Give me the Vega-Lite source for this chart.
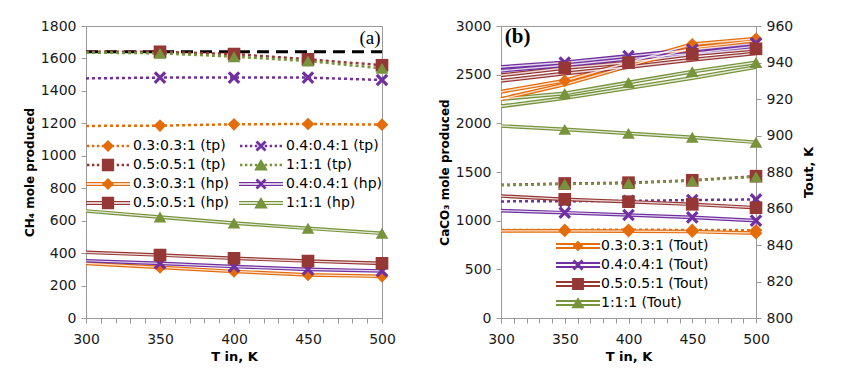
{
"$schema": "https://vega.github.io/schema/vega-lite/v6.json",
"padding": {"left": 22, "top": 18, "right": 2, "bottom": 2},
"spacing": 41,
"config": {
  "font": "DejaVu Sans",
  "view": {"stroke": "#9a9a9a"},
  "axis": {"domainColor": "#9a9a9a", "tickColor": "#9a9a9a", "grid": false, "labelFont": "DejaVu Sans", "labelFontSize": 14, "labelColor": "#1a1a1a", "titleFont": "DejaVu Sans", "titleFontSize": 13, "titleFontWeight": "bold", "titleColor": "#000000", "tickSize": 5, "labelFlush": false, "labelOverlap": false, "labelPadding": 5, "format": "d"},
  "axisX": {"labelPadding": 9}
},
"datasets": {
  "a": [
    {"ratio":"ref","type":"ref","T":300,"v":1641},{"ratio":"ref","type":"ref","T":500,"v":1641},
    {"ratio":"0.3:0.3:1","type":"tp","T":300,"v":1184},{"ratio":"0.3:0.3:1","type":"tp","T":350,"v":1186},{"ratio":"0.3:0.3:1","type":"tp","T":400,"v":1194},{"ratio":"0.3:0.3:1","type":"tp","T":450,"v":1196},{"ratio":"0.3:0.3:1","type":"tp","T":500,"v":1192},
    {"ratio":"0.4:0.4:1","type":"tp","T":300,"v":1477},{"ratio":"0.4:0.4:1","type":"tp","T":350,"v":1482},{"ratio":"0.4:0.4:1","type":"tp","T":400,"v":1482},{"ratio":"0.4:0.4:1","type":"tp","T":450,"v":1482},{"ratio":"0.4:0.4:1","type":"tp","T":500,"v":1467},
    {"ratio":"0.5:0.5:1","type":"tp","T":300,"v":1641},{"ratio":"0.5:0.5:1","type":"tp","T":350,"v":1641},{"ratio":"0.5:0.5:1","type":"tp","T":400,"v":1627},{"ratio":"0.5:0.5:1","type":"tp","T":450,"v":1595},{"ratio":"0.5:0.5:1","type":"tp","T":500,"v":1558},
    {"ratio":"1:1:1","type":"tp","T":300,"v":1636},{"ratio":"1:1:1","type":"tp","T":350,"v":1632},{"ratio":"1:1:1","type":"tp","T":400,"v":1611},{"ratio":"1:1:1","type":"tp","T":450,"v":1584},{"ratio":"1:1:1","type":"tp","T":500,"v":1539},
    {"ratio":"0.3:0.3:1","type":"hp","T":300,"v":337},{"ratio":"0.3:0.3:1","type":"hp","T":350,"v":312},{"ratio":"0.3:0.3:1","type":"hp","T":400,"v":287},{"ratio":"0.3:0.3:1","type":"hp","T":450,"v":266},{"ratio":"0.3:0.3:1","type":"hp","T":500,"v":257},
    {"ratio":"0.4:0.4:1","type":"hp","T":300,"v":353},{"ratio":"0.4:0.4:1","type":"hp","T":350,"v":337},{"ratio":"0.4:0.4:1","type":"hp","T":400,"v":317},{"ratio":"0.4:0.4:1","type":"hp","T":450,"v":300},{"ratio":"0.4:0.4:1","type":"hp","T":500,"v":290},
    {"ratio":"0.5:0.5:1","type":"hp","T":300,"v":405},{"ratio":"0.5:0.5:1","type":"hp","T":350,"v":388},{"ratio":"0.5:0.5:1","type":"hp","T":400,"v":368},{"ratio":"0.5:0.5:1","type":"hp","T":450,"v":351},{"ratio":"0.5:0.5:1","type":"hp","T":500,"v":337},
    {"ratio":"1:1:1","type":"hp","T":300,"v":660},{"ratio":"1:1:1","type":"hp","T":350,"v":622},{"ratio":"1:1:1","type":"hp","T":400,"v":585},{"ratio":"1:1:1","type":"hp","T":450,"v":553},{"ratio":"1:1:1","type":"hp","T":500,"v":522}
  ],
  "b": [
    {"ratio":"0.3:0.3:1","type":"tp","T":300,"v":905},{"ratio":"0.3:0.3:1","type":"tp","T":350,"v":905},{"ratio":"0.3:0.3:1","type":"tp","T":400,"v":906},{"ratio":"0.3:0.3:1","type":"tp","T":450,"v":905},{"ratio":"0.3:0.3:1","type":"tp","T":500,"v":902},
    {"ratio":"0.4:0.4:1","type":"tp","T":300,"v":1198},{"ratio":"0.4:0.4:1","type":"tp","T":350,"v":1200},{"ratio":"0.4:0.4:1","type":"tp","T":400,"v":1203},{"ratio":"0.4:0.4:1","type":"tp","T":450,"v":1212},{"ratio":"0.4:0.4:1","type":"tp","T":500,"v":1218},
    {"ratio":"0.5:0.5:1","type":"tp","T":300,"v":1368},{"ratio":"0.5:0.5:1","type":"tp","T":350,"v":1382},{"ratio":"0.5:0.5:1","type":"tp","T":400,"v":1390},{"ratio":"0.5:0.5:1","type":"tp","T":450,"v":1415},{"ratio":"0.5:0.5:1","type":"tp","T":500,"v":1457},
    {"ratio":"1:1:1","type":"tp","T":300,"v":1363},{"ratio":"1:1:1","type":"tp","T":350,"v":1377},{"ratio":"1:1:1","type":"tp","T":400,"v":1384},{"ratio":"1:1:1","type":"tp","T":450,"v":1411},{"ratio":"1:1:1","type":"tp","T":500,"v":1452},
    {"ratio":"0.3:0.3:1","type":"hp","T":300,"v":895},{"ratio":"0.3:0.3:1","type":"hp","T":350,"v":895},{"ratio":"0.3:0.3:1","type":"hp","T":400,"v":893},{"ratio":"0.3:0.3:1","type":"hp","T":450,"v":888},{"ratio":"0.3:0.3:1","type":"hp","T":500,"v":872},
    {"ratio":"0.4:0.4:1","type":"hp","T":300,"v":1103},{"ratio":"0.4:0.4:1","type":"hp","T":350,"v":1082},{"ratio":"0.4:0.4:1","type":"hp","T":400,"v":1058},{"ratio":"0.4:0.4:1","type":"hp","T":450,"v":1034},{"ratio":"0.4:0.4:1","type":"hp","T":500,"v":1000},
    {"ratio":"0.5:0.5:1","type":"hp","T":300,"v":1253},{"ratio":"0.5:0.5:1","type":"hp","T":350,"v":1219},{"ratio":"0.5:0.5:1","type":"hp","T":400,"v":1195},{"ratio":"0.5:0.5:1","type":"hp","T":450,"v":1168},{"ratio":"0.5:0.5:1","type":"hp","T":500,"v":1133},
    {"ratio":"1:1:1","type":"hp","T":300,"v":1973},{"ratio":"1:1:1","type":"hp","T":350,"v":1938},{"ratio":"1:1:1","type":"hp","T":400,"v":1897},{"ratio":"1:1:1","type":"hp","T":450,"v":1856},{"ratio":"1:1:1","type":"hp","T":500,"v":1805}
  ],
  "t": [
    {"ratio":"0.3:0.3:1","type":"tp","T":300,"v":924},{"ratio":"0.3:0.3:1","type":"tp","T":350,"v":930},{"ratio":"0.3:0.3:1","type":"tp","T":400,"v":940},{"ratio":"0.3:0.3:1","type":"tp","T":450,"v":950},{"ratio":"0.3:0.3:1","type":"tp","T":500,"v":953},
    {"ratio":"0.4:0.4:1","type":"tp","T":300,"v":937.5},{"ratio":"0.4:0.4:1","type":"tp","T":350,"v":940},{"ratio":"0.4:0.4:1","type":"tp","T":400,"v":943.5},{"ratio":"0.4:0.4:1","type":"tp","T":450,"v":947},{"ratio":"0.4:0.4:1","type":"tp","T":500,"v":950.5},
    {"ratio":"0.5:0.5:1","type":"tp","T":300,"v":933},{"ratio":"0.5:0.5:1","type":"tp","T":350,"v":937},{"ratio":"0.5:0.5:1","type":"tp","T":400,"v":940},{"ratio":"0.5:0.5:1","type":"tp","T":450,"v":944.5},{"ratio":"0.5:0.5:1","type":"tp","T":500,"v":947.5},
    {"ratio":"1:1:1","type":"tp","T":300,"v":920},{"ratio":"1:1:1","type":"tp","T":350,"v":923},{"ratio":"1:1:1","type":"tp","T":400,"v":929},{"ratio":"1:1:1","type":"tp","T":450,"v":935},{"ratio":"1:1:1","type":"tp","T":500,"v":940},
    {"ratio":"0.3:0.3:1","type":"hp","T":300,"v":920},{"ratio":"0.3:0.3:1","type":"hp","T":350,"v":928},{"ratio":"0.3:0.3:1","type":"hp","T":400,"v":938},{"ratio":"0.3:0.3:1","type":"hp","T":450,"v":948},{"ratio":"0.3:0.3:1","type":"hp","T":500,"v":952},
    {"ratio":"0.4:0.4:1","type":"hp","T":300,"v":935.5},{"ratio":"0.4:0.4:1","type":"hp","T":350,"v":938.5},{"ratio":"0.4:0.4:1","type":"hp","T":400,"v":942},{"ratio":"0.4:0.4:1","type":"hp","T":450,"v":945},{"ratio":"0.4:0.4:1","type":"hp","T":500,"v":949},
    {"ratio":"0.5:0.5:1","type":"hp","T":300,"v":930},{"ratio":"0.5:0.5:1","type":"hp","T":350,"v":934},{"ratio":"0.5:0.5:1","type":"hp","T":400,"v":937.5},{"ratio":"0.5:0.5:1","type":"hp","T":450,"v":941.5},{"ratio":"0.5:0.5:1","type":"hp","T":500,"v":945},
    {"ratio":"1:1:1","type":"hp","T":300,"v":916},{"ratio":"1:1:1","type":"hp","T":350,"v":920.5},{"ratio":"1:1:1","type":"hp","T":400,"v":926},{"ratio":"1:1:1","type":"hp","T":450,"v":931.5},{"ratio":"1:1:1","type":"hp","T":500,"v":937.5}
  ],
  "legA": [
    {"series":"0.3:0.3:1 (tp)"},{"series":"0.4:0.4:1 (tp)"},{"series":"0.5:0.5:1 (tp)"},{"series":"1:1:1 (tp)"},
    {"series":"0.3:0.3:1 (hp)"},{"series":"0.4:0.4:1 (hp)"},{"series":"0.5:0.5:1 (hp)"},{"series":"1:1:1 (hp)"}
  ],
  "legB": [
    {"series":"0.3:0.3:1 (Tout)"},{"series":"0.4:0.4:1 (Tout)"},{"series":"0.5:0.5:1 (Tout)"},{"series":"1:1:1 (Tout)"}
  ],
  "labA": [{"label": "(a)"}],
  "labB": [{"label": "(b)"}]
},
"hconcat": [
{
  "width": 296, "height": 292,
  "layer": [
    {
      "data": {"name": "a"},
      "encoding": {
        "x": {"field": "T", "type": "quantitative", "scale": {"domain": [300, 500], "nice": false, "zero": false}, "axis": {"title": "T in, K", "values": [300,310,320,330,340,350,360,370,380,390,400,410,420,430,440,450,460,470,480,490,500], "labelExpr": "datum.value % 50 === 0 ? datum.label : ''", "titlePadding": 4}},
        "y": {"field": "v", "type": "quantitative", "scale": {"domain": [0, 1800], "nice": false}, "axis": {"title": "CH₄ mole produced", "titleFontSize": 12, "values": [0,200,400,600,800,1000,1200,1400,1600,1800]}}
      },
      "layer": [
        {"transform": [{"filter": "datum.type === 'ref'"}], "mark": {"type": "line", "color": "#000000", "strokeDash": [12, 7], "strokeWidth": 3}},
        {"transform": [{"filter": "datum.type === 'tp'"}], "mark": {"type": "line", "strokeDash": [3, 3], "strokeWidth": 2.5},
         "encoding": {"color": {"field": "ratio", "type": "nominal", "scale": {"domain": ["0.3:0.3:1","0.4:0.4:1","0.5:0.5:1","1:1:1"], "range": ["#E46C0A","#7030A0","#953735","#77933C"]}, "legend": null}}},
        {"transform": [{"filter": "datum.type === 'hp'"}], "mark": {"type": "line", "strokeWidth": 3.6},
         "encoding": {"color": {"field": "ratio", "type": "nominal", "scale": {"domain": ["0.3:0.3:1","0.4:0.4:1","0.5:0.5:1","1:1:1"], "range": ["#E46C0A","#7030A0","#953735","#77933C"]}, "legend": null}}},
        {"transform": [{"filter": "datum.type === 'hp'"}], "mark": {"type": "line", "strokeWidth": 1.2, "color": "#ffffff", "opacity": 0.8},
         "encoding": {"detail": {"field": "ratio", "type": "nominal"}}},
        {"transform": [{"filter": "datum.type !== 'ref' && datum.T >= 350"}], "mark": {"type": "point", "filled": true, "opacity": 1, "size": 160, "strokeWidth": 0},
         "encoding": {
           "color": {"field": "ratio", "type": "nominal", "scale": {"domain": ["0.3:0.3:1","0.4:0.4:1","0.5:0.5:1","1:1:1"], "range": ["#E46C0A","#7030A0","#953735","#77933C"]}, "legend": null},
           "shape": {"field": "ratio", "type": "nominal", "scale": {"domain": ["0.3:0.3:1","0.4:0.4:1","0.5:0.5:1","1:1:1"], "range": ["diamond","M-1,-0.64L-0.64,-1L0,-0.36L0.64,-1L1,-0.64L0.36,0L1,0.64L0.64,1L0,0.36L-0.64,1L-1,0.64L-0.36,0Z","square","triangle-up"]}, "legend": null}}}
      ]
    },
    {
      "data": {"name": "labA"},
      "mark": {"type": "text", "font": "Liberation Serif", "fontSize": 19, "align": "right", "baseline": "middle", "color": "#000000", "opacity": 1},
      "encoding": {
        "x": {"datum": 499, "type": "quantitative", "scale": {"domain": [300, 500], "nice": false, "zero": false}, "axis": {"title": "T in, K", "values": [300,310,320,330,340,350,360,370,380,390,400,410,420,430,440,450,460,470,480,490,500], "labelExpr": "datum.value % 50 === 0 ? datum.label : ''", "titlePadding": 4}},
        "y": {"datum": 1726, "type": "quantitative", "scale": {"domain": [0, 1800], "nice": false}, "axis": {"title": "CH₄ mole produced", "titleFontSize": 12, "values": [0,200,400,600,800,1000,1200,1400,1600,1800]}},
        "text": {"field": "label", "type": "nominal"}}
    },
    {
      "data": {"name": "legA"},
      "mark": {"type": "point", "filled": true, "opacity": 0},
      "encoding": {
        "color": {"field": "series", "type": "nominal",
          "scale": {"domain": ["0.3:0.3:1 (tp)","0.5:0.5:1 (tp)","0.3:0.3:1 (hp)","0.5:0.5:1 (hp)","0.4:0.4:1 (tp)","1:1:1 (tp)","0.4:0.4:1 (hp)","1:1:1 (hp)"], "range": ["#E46C0A","#953735","#E46C0A","#953735","#7030A0","#77933C","#7030A0","#77933C"]},
          "legend": {"title": null, "orient": "none", "legendX": 0, "legendY": 112, "columns": 2, "symbolSize": 1936, "symbolStrokeWidth": 0, "symbolOpacity": 1, "labelFont": "DejaVu Sans", "labelFontSize": 14, "labelColor": "#000000", "labelOffset": 3, "columnPadding": 9, "rowPadding": 3, "clipHeight": 16, "padding": 0, "labelLimit": 300}},
        "shape": {"field": "series", "type": "nominal",
          "scale": {"domain": ["0.3:0.3:1 (tp)","0.5:0.5:1 (tp)","0.3:0.3:1 (hp)","0.5:0.5:1 (hp)","0.4:0.4:1 (tp)","1:1:1 (tp)","0.4:0.4:1 (hp)","1:1:1 (hp)"],
            "range": [
              "M-0.955,-0.055L-0.845,-0.055L-0.845,0.055L-0.955,0.055ZM-0.73,-0.055L-0.62,-0.055L-0.62,0.055L-0.73,0.055ZM-0.505,-0.055L-0.395,-0.055L-0.395,0.055L-0.505,0.055ZM-0.28,-0.055L-0.17,-0.055L-0.17,0.055L-0.28,0.055ZM-0.055,-0.055L0.055,-0.055L0.055,0.055L-0.055,0.055ZM0.17,-0.055L0.28,-0.055L0.28,0.055L0.17,0.055ZM0.395,-0.055L0.505,-0.055L0.505,0.055L0.395,0.055ZM0.62,-0.055L0.73,-0.055L0.73,0.055L0.62,0.055ZM0.845,-0.055L0.955,-0.055L0.955,0.055L0.845,0.055ZM0,-0.27L0.27,0L0,0.27L-0.27,0Z",
              "M-0.955,-0.055L-0.845,-0.055L-0.845,0.055L-0.955,0.055ZM-0.73,-0.055L-0.62,-0.055L-0.62,0.055L-0.73,0.055ZM-0.505,-0.055L-0.395,-0.055L-0.395,0.055L-0.505,0.055ZM-0.28,-0.055L-0.17,-0.055L-0.17,0.055L-0.28,0.055ZM-0.055,-0.055L0.055,-0.055L0.055,0.055L-0.055,0.055ZM0.17,-0.055L0.28,-0.055L0.28,0.055L0.17,0.055ZM0.395,-0.055L0.505,-0.055L0.505,0.055L0.395,0.055ZM0.62,-0.055L0.73,-0.055L0.73,0.055L0.62,0.055ZM0.845,-0.055L0.955,-0.055L0.955,0.055L0.845,0.055ZM-0.28,-0.28L0.28,-0.28L0.28,0.28L-0.28,0.28Z",
              "M-1,-0.09L1,-0.09L1,-0.035L-1,-0.035ZM-1,0.035L1,0.035L1,0.09L-1,0.09ZM0,-0.27L0.27,0L0,0.27L-0.27,0Z",
              "M-1,-0.09L1,-0.09L1,-0.035L-1,-0.035ZM-1,0.035L1,0.035L1,0.09L-1,0.09ZM-0.28,-0.28L0.28,-0.28L0.28,0.28L-0.28,0.28Z",
              "M-0.955,-0.055L-0.845,-0.055L-0.845,0.055L-0.955,0.055ZM-0.73,-0.055L-0.62,-0.055L-0.62,0.055L-0.73,0.055ZM-0.505,-0.055L-0.395,-0.055L-0.395,0.055L-0.505,0.055ZM-0.28,-0.055L-0.17,-0.055L-0.17,0.055L-0.28,0.055ZM-0.055,-0.055L0.055,-0.055L0.055,0.055L-0.055,0.055ZM0.17,-0.055L0.28,-0.055L0.28,0.055L0.17,0.055ZM0.395,-0.055L0.505,-0.055L0.505,0.055L0.395,0.055ZM0.62,-0.055L0.73,-0.055L0.73,0.055L0.62,0.055ZM0.845,-0.055L0.955,-0.055L0.955,0.055L0.845,0.055ZM-0.25,-0.16L-0.16,-0.25L0,-0.09L0.16,-0.25L0.25,-0.16L0.09,0L0.25,0.16L0.16,0.25L0,0.09L-0.16,0.25L-0.25,0.16L-0.09,0Z",
              "M-0.955,-0.055L-0.845,-0.055L-0.845,0.055L-0.955,0.055ZM-0.73,-0.055L-0.62,-0.055L-0.62,0.055L-0.73,0.055ZM-0.505,-0.055L-0.395,-0.055L-0.395,0.055L-0.505,0.055ZM-0.28,-0.055L-0.17,-0.055L-0.17,0.055L-0.28,0.055ZM-0.055,-0.055L0.055,-0.055L0.055,0.055L-0.055,0.055ZM0.17,-0.055L0.28,-0.055L0.28,0.055L0.17,0.055ZM0.395,-0.055L0.505,-0.055L0.505,0.055L0.395,0.055ZM0.62,-0.055L0.73,-0.055L0.73,0.055L0.62,0.055ZM0.845,-0.055L0.955,-0.055L0.955,0.055L0.845,0.055ZM0,-0.27L0.31,0.25L-0.31,0.25Z",
              "M-1,-0.09L1,-0.09L1,-0.035L-1,-0.035ZM-1,0.035L1,0.035L1,0.09L-1,0.09ZM-0.25,-0.16L-0.16,-0.25L0,-0.09L0.16,-0.25L0.25,-0.16L0.09,0L0.25,0.16L0.16,0.25L0,0.09L-0.16,0.25L-0.25,0.16L-0.09,0Z",
              "M-1,-0.09L1,-0.09L1,-0.035L-1,-0.035ZM-1,0.035L1,0.035L1,0.09L-1,0.09ZM0,-0.27L0.31,0.25L-0.31,0.25Z"
            ]},
          "legend": {"title": null, "orient": "none", "legendX": 0, "legendY": 112, "columns": 2, "symbolSize": 1936, "symbolStrokeWidth": 0, "symbolOpacity": 1, "labelFont": "DejaVu Sans", "labelFontSize": 14, "labelColor": "#000000", "labelOffset": 3, "columnPadding": 9, "rowPadding": 3, "clipHeight": 16, "padding": 0, "labelLimit": 300}}
      }
    }
  ],
  "resolve": {"scale": {"color": "independent", "shape": "independent"}}
},
{
  "width": 255, "height": 292,
  "layer": [
    {
      "layer": [
        {
          "data": {"name": "b"},
          "encoding": {
            "x": {"field": "T", "type": "quantitative", "scale": {"domain": [300, 500], "nice": false, "zero": false}, "axis": {"title": "T in, K", "values": [300,310,320,330,340,350,360,370,380,390,400,410,420,430,440,450,460,470,480,490,500], "labelExpr": "datum.value % 50 === 0 ? datum.label : ''", "titlePadding": 4}},
            "y": {"field": "v", "type": "quantitative", "scale": {"domain": [0, 3000], "nice": false}, "axis": {"title": "CaCO₃ mole produced", "titleFontSize": 12, "values": [0,500,1000,1500,2000,2500,3000]}}
          },
          "layer": [
            {"transform": [{"filter": "datum.type === 'tp'"}], "mark": {"type": "line", "strokeDash": [3, 3], "strokeWidth": 2.5},
             "encoding": {"color": {"field": "ratio", "type": "nominal", "scale": {"domain": ["0.3:0.3:1","0.4:0.4:1","0.5:0.5:1","1:1:1"], "range": ["#E46C0A","#7030A0","#953735","#77933C"]}, "legend": null}}},
            {"transform": [{"filter": "datum.type === 'hp'"}], "mark": {"type": "line", "strokeWidth": 3.6},
             "encoding": {"color": {"field": "ratio", "type": "nominal", "scale": {"domain": ["0.3:0.3:1","0.4:0.4:1","0.5:0.5:1","1:1:1"], "range": ["#E46C0A","#7030A0","#953735","#77933C"]}, "legend": null}}},
            {"transform": [{"filter": "datum.type === 'hp'"}], "mark": {"type": "line", "strokeWidth": 1.2, "color": "#ffffff", "opacity": 0.8},
             "encoding": {"detail": {"field": "ratio", "type": "nominal"}}},
            {"transform": [{"filter": "datum.T >= 350"}], "mark": {"type": "point", "filled": true, "opacity": 1, "size": 160, "strokeWidth": 0},
             "encoding": {
               "color": {"field": "ratio", "type": "nominal", "scale": {"domain": ["0.3:0.3:1","0.4:0.4:1","0.5:0.5:1","1:1:1"], "range": ["#E46C0A","#7030A0","#953735","#77933C"]}, "legend": null},
               "shape": {"field": "ratio", "type": "nominal", "scale": {"domain": ["0.3:0.3:1","0.4:0.4:1","0.5:0.5:1","1:1:1"], "range": ["diamond","M-1,-0.64L-0.64,-1L0,-0.36L0.64,-1L1,-0.64L0.36,0L1,0.64L0.64,1L0,0.36L-0.64,1L-1,0.64L-0.36,0Z","square","triangle-up"]}, "legend": null}}}
          ]
        },
        {
          "data": {"name": "labB"},
          "mark": {"type": "text", "font": "Liberation Serif", "fontWeight": "bold", "fontSize": 21, "align": "left", "baseline": "middle", "color": "#000000", "opacity": 1},
          "encoding": {
            "x": {"datum": 303, "type": "quantitative", "scale": {"domain": [300, 500], "nice": false, "zero": false}, "axis": {"title": "T in, K", "values": [300,310,320,330,340,350,360,370,380,390,400,410,420,430,440,450,460,470,480,490,500], "labelExpr": "datum.value % 50 === 0 ? datum.label : ''", "titlePadding": 4}},
            "y": {"datum": 2887, "type": "quantitative", "scale": {"domain": [0, 3000], "nice": false}, "axis": {"title": "CaCO₃ mole produced", "titleFontSize": 12, "values": [0,500,1000,1500,2000,2500,3000]}},
            "text": {"field": "label", "type": "nominal"}}
        }
      ]
    },
    {
      "data": {"name": "t"},
      "encoding": {
        "x": {"field": "T", "type": "quantitative", "scale": {"domain": [300, 500], "nice": false, "zero": false}, "axis": {"title": "T in, K", "values": [300,310,320,330,340,350,360,370,380,390,400,410,420,430,440,450,460,470,480,490,500], "labelExpr": "datum.value % 50 === 0 ? datum.label : ''", "titlePadding": 4}},
        "y": {"field": "v", "type": "quantitative", "scale": {"domain": [800, 960], "nice": false, "zero": false}, "axis": {"orient": "right", "title": "Tout, K", "titleAngle": 270, "titleBaseline": "top", "titlePadding": 10, "values": [800,820,840,860,880,900,920,940,960]}}
      },
      "layer": [
        {"mark": {"type": "line", "strokeWidth": 4},
         "encoding": {"color": {"field": "ratio", "type": "nominal", "scale": {"domain": ["0.3:0.3:1","0.4:0.4:1","0.5:0.5:1","1:1:1"], "range": ["#E46C0A","#7030A0","#953735","#77933C"]}, "legend": null}, "detail": {"field": "type", "type": "nominal"}}},
        {"mark": {"type": "line", "strokeWidth": 1.4, "color": "#ffffff", "opacity": 0.8},
         "encoding": {"detail": [{"field": "ratio", "type": "nominal"}, {"field": "type", "type": "nominal"}]}},
        {"transform": [{"filter": "datum.type === 'tp' && datum.T >= 350"}], "mark": {"type": "point", "filled": true, "opacity": 1, "size": 160, "strokeWidth": 0},
         "encoding": {
           "color": {"field": "ratio", "type": "nominal", "scale": {"domain": ["0.3:0.3:1","0.4:0.4:1","0.5:0.5:1","1:1:1"], "range": ["#E46C0A","#7030A0","#953735","#77933C"]}, "legend": null},
           "shape": {"field": "ratio", "type": "nominal", "scale": {"domain": ["0.3:0.3:1","0.4:0.4:1","0.5:0.5:1","1:1:1"], "range": ["diamond","M-1,-0.64L-0.64,-1L0,-0.36L0.64,-1L1,-0.64L0.36,0L1,0.64L0.64,1L0,0.36L-0.64,1L-1,0.64L-0.36,0Z","square","triangle-up"]}, "legend": null}}}
      ]
    },
    {
      "data": {"name": "legB"},
      "mark": {"type": "point", "filled": true, "opacity": 0},
      "encoding": {
        "color": {"field": "series", "type": "nominal",
          "scale": {"domain": ["0.3:0.3:1 (Tout)","0.4:0.4:1 (Tout)","0.5:0.5:1 (Tout)","1:1:1 (Tout)"], "range": ["#E46C0A","#7030A0","#953735","#77933C"]},
          "legend": {"title": null, "orient": "none", "legendX": 55, "legendY": 212, "columns": 1, "symbolSize": 1936, "symbolStrokeWidth": 0, "symbolOpacity": 1, "labelFont": "DejaVu Sans", "labelFontSize": 14, "labelColor": "#000000", "labelOffset": 1, "rowPadding": 3, "clipHeight": 16, "padding": 0, "labelLimit": 300}},
        "shape": {"field": "series", "type": "nominal",
          "scale": {"domain": ["0.3:0.3:1 (Tout)","0.4:0.4:1 (Tout)","0.5:0.5:1 (Tout)","1:1:1 (Tout)"],
            "range": [
              "M-1,-0.14L1,-0.14L1,-0.045L-1,-0.045ZM-1,0.045L1,0.045L1,0.14L-1,0.14ZM0,-0.24L0.24,0L0,0.24L-0.24,0Z",
              "M-1,-0.14L1,-0.14L1,-0.045L-1,-0.045ZM-1,0.045L1,0.045L1,0.14L-1,0.14ZM-0.25,-0.16L-0.16,-0.25L0,-0.09L0.16,-0.25L0.25,-0.16L0.09,0L0.25,0.16L0.16,0.25L0,0.09L-0.16,0.25L-0.25,0.16L-0.09,0Z",
              "M-1,-0.14L1,-0.14L1,-0.045L-1,-0.045ZM-1,0.045L1,0.045L1,0.14L-1,0.14ZM-0.27,-0.27L0.27,-0.27L0.27,0.27L-0.27,0.27Z",
              "M-1,-0.14L1,-0.14L1,-0.045L-1,-0.045ZM-1,0.045L1,0.045L1,0.14L-1,0.14ZM0,-0.26L0.3,0.24L-0.3,0.24Z"
            ]},
          "legend": {"title": null, "orient": "none", "legendX": 55, "legendY": 212, "columns": 1, "symbolSize": 1936, "symbolStrokeWidth": 0, "symbolOpacity": 1, "labelFont": "DejaVu Sans", "labelFontSize": 14, "labelColor": "#000000", "labelOffset": 1, "rowPadding": 3, "clipHeight": 16, "padding": 0, "labelLimit": 300}}
      }
    }
  ],
  "resolve": {"scale": {"y": "independent", "color": "independent", "shape": "independent"}}
}
]
}
